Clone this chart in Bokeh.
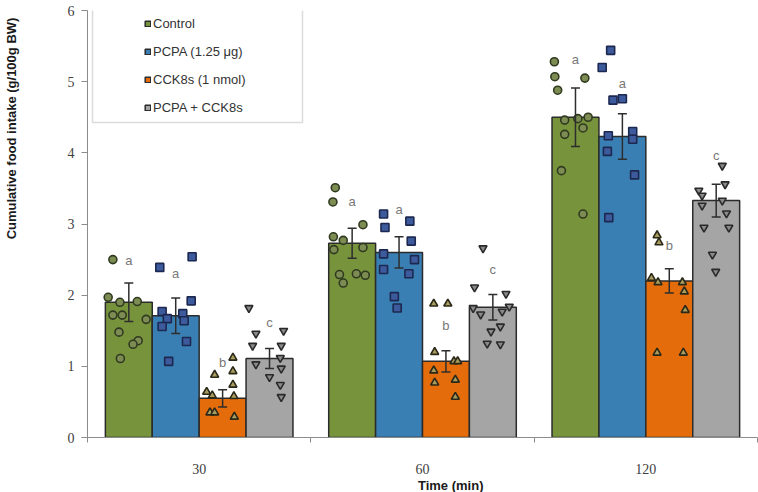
import math

from bokeh.plotting import figure
from bokeh.layouts import row, column
from bokeh.models import (ColumnDataSource, FixedTicker, Whisker, TeeHead, Legend,
                          LegendItem, BoxAnnotation, Range1d, Label)
from bokeh.core.properties import value
from bokeh.embed import file_html
from bokeh.resources import INLINE

# ---- data -------------------------------------------------------------
times = ["30", "60", "120"]
groups = ["Control", "PCPA (1.25 μg)", "CCK8s (1 nmol)", "PCPA + CCK8s"]
x_title = "Time (min)"
y_title = "Cumulative food intake (g/100g BW)"

# group means and SEM at 30, 60 and 120 min
control_mean = [1.90, 2.73, 4.50]
control_sem = [0.27, 0.21, 0.41]
pcpa_mean = [1.71, 2.60, 4.23]
pcpa_sem = [0.25, 0.22, 0.32]
cck_mean = [0.55, 1.07, 2.20]
cck_sem = [0.12, 0.15, 0.17]
combo_mean = [1.11, 1.83, 3.33]
combo_sem = [0.14, 0.18, 0.23]

# individual animals
control_30 = [2.50, 1.97, 1.90, 1.91, 1.72, 1.72, 1.66, 1.48, 1.36, 1.31, 1.11]
control_60 = [3.51, 3.31, 2.99, 2.82, 2.77, 2.64, 2.67, 2.29, 2.17, 2.30, 2.28]
control_120 = [5.28, 5.07, 5.05, 4.88, 4.46, 4.48, 4.50, 4.35, 4.26, 3.75, 3.14]
pcpa_30 = [2.54, 2.39, 1.92, 1.77, 1.74, 1.67, 1.64, 1.56, 1.35, 1.07]
pcpa_60 = [3.14, 2.95, 3.04, 2.76, 2.58, 2.50, 2.36, 2.30, 1.98, 1.82]
pcpa_120 = [5.44, 5.20, 4.74, 4.76, 4.24, 4.30, 4.19, 4.02, 3.69, 3.09]
cck_30 = [1.12, 0.88, 0.93, 0.74, 0.64, 0.59, 0.58, 0.35, 0.35, 0.29]
cck_60 = [1.88, 1.88, 1.20, 1.07, 1.07, 0.94, 0.81, 0.77, 0.57]
cck_120 = [2.84, 2.74, 2.24, 2.18, 2.18, 2.05, 1.79, 1.19, 1.19]
combo_30 = [1.82, 1.46, 1.50, 1.29, 1.29, 1.12, 1.03, 0.97, 0.85, 0.74, 0.57]
combo_60 = [2.66, 2.11, 2.02, 1.82, 1.84, 1.73, 1.77, 1.56, 1.49, 1.32, 1.31]
combo_120 = [3.82, 3.56, 3.47, 3.40, 3.33, 3.26, 3.15, 2.95, 2.95, 2.57, 2.33]

# significance letters (same grouping at every time point)
letters = ["a", "a", "b", "c"]

# ---- layout -----------------------------------------------------------
bar_offsets = [-0.315, -0.105, 0.105, 0.315]
bar_width = 0.21

# horizontal scatter of the dots, as a fraction of the bar width
control_jit = [[-0.34, -0.44, -0.19, 0.18, -0.34, -0.14, 0.37, -0.21, 0.20, 0.09, -0.18],
               [-0.36, -0.41, 0.23, -0.40, -0.19, -0.39, 0.23, -0.27, -0.19, 0.09, 0.28],
               [-0.45, -0.44, 0.20, -0.38, -0.23, 0.05, 0.27, 0.16, -0.23, -0.30, 0.16]]
pcpa_jit = [[0.35, -0.34, 0.33, -0.29, 0.15, -0.18, 0.18, -0.29, 0.23, -0.15],
            [-0.33, -0.30, 0.23, 0.26, -0.33, 0.33, -0.33, 0.21, -0.10, -0.04],
            [-0.25, -0.43, -0.20, 0.00, -0.30, 0.22, 0.22, -0.32, 0.26, -0.29]]
cck_jit = [[0.22, -0.17, 0.22, 0.22, -0.34, -0.22, 0.24, -0.27, -0.17, 0.25],
           [-0.26, 0.04, -0.24, 0.17, 0.25, -0.26, 0.20, -0.24, 0.20],
           [-0.26, -0.22, -0.38, -0.24, 0.28, 0.32, 0.34, -0.26, 0.30]]
combo_jit = [[-0.44, -0.29, 0.30, -0.36, 0.25, 0.23, -0.29, 0.25, 0.00, 0.23, 0.25],
             [-0.21, -0.39, 0.28, -0.42, 0.35, -0.26, 0.20, 0.16, -0.04, -0.12, 0.16],
             [0.13, 0.19, -0.37, -0.30, 0.13, -0.30, 0.22, -0.26, 0.27, -0.08, -0.01]]

# height of the letter above each bar
letter_y = [[2.49, 3.31, 5.31], [2.31, 3.20, 4.97], [1.05, 1.57, 2.70], [1.62, 2.36, 3.96]]

bar_colors = ["#77933c", "#3a7fb4", "#e46c0a", "#a5a5a5"]
dot_markers = ["circle", "square", "triangle", "inverted_triangle"]
dot_fill = ["#7c8c52", "#3d5a9c", "#a89c5e", "#8a8a8a"]
dot_line = ["#303a20", "#1c2850", "#2a2818", "#2a2a2a"]

means = [control_mean, pcpa_mean, cck_mean, combo_mean]
sems = [control_sem, pcpa_sem, cck_sem, combo_sem]
dots = [[control_30, control_60, control_120],
        [pcpa_30, pcpa_60, pcpa_120],
        [cck_30, cck_60, cck_120],
        [combo_30, combo_60, combo_120]]
jitters = [control_jit, pcpa_jit, cck_jit, combo_jit]

SANS = "Liberation Sans"
SERIF = "Liberation Serif"

W, H = 758, 492
TITLE_W = 22     # strip holding the vertical axis title
TITLE_H = 16     # strip holding the horizontal axis title
PLOT_W, PLOT_H = W - TITLE_W, H - TITLE_H

title_style = dict(text_font=SANS, text_font_style="bold", text_font_size="13px",
                   text_color="#1a1a1a", text_align="center", text_baseline="middle")


def blank_strip(width, height):
    f = figure(width=width, height=height, output_backend="svg", toolbar_location=None,
               x_range=Range1d(0, width), y_range=Range1d(0, height),
               min_border=0, min_border_left=0, min_border_right=0,
               min_border_top=0, min_border_bottom=0)
    f.axis.visible = False
    f.grid.visible = False
    f.outline_line_color = None
    return f


# vertical title, set toward the upper part of the axis
yt = blank_strip(TITLE_W, H)
yt.add_layout(Label(x=11, y=H - 128, text=y_title, angle=math.pi / 2, **title_style))

# horizontal title under the middle category
xt = blank_strip(PLOT_W, TITLE_H)
xt.add_layout(Label(x=421 - TITLE_W, y=7, text=x_title, **title_style))

p = figure(width=PLOT_W, height=PLOT_H, output_backend="svg", toolbar_location=None,
           x_range=Range1d(-0.5, 2.5), y_range=Range1d(0, 6),
           min_border_left=87 - TITLE_W, min_border_right=1, min_border_top=10,
           min_border_bottom=PLOT_H - 437)
p.outline_line_color = None
p.xgrid.visible = False
p.ygrid.visible = False
p.background_fill_color = "white"

bar_renderers = []
for gi in range(4):
    xs = [ti + bar_offsets[gi] for ti in range(len(times))]
    src = ColumnDataSource(dict(
        x=xs, top=means[gi],
        upper=[m + s for m, s in zip(means[gi], sems[gi])],
        lower=[m - s for m, s in zip(means[gi], sems[gi])]))
    r = p.vbar(x="x", top="top", width=bar_width, source=src,
               fill_color=bar_colors[gi], line_color="#2b2b2b", line_width=1.5)
    bar_renderers.append(r)

    w = Whisker(source=src, base="x", upper="upper", lower="lower",
                line_color="#2e2e2e", line_width=1.5, level="annotation",
                upper_head=TeeHead(size=9, line_color="#2e2e2e", line_width=1.5),
                lower_head=TeeHead(size=9, line_color="#2e2e2e", line_width=1.5))
    p.add_layout(w)

for gi in range(4):
    dx, dy = [], []
    for ti in range(len(times)):
        for v, j in zip(dots[gi][ti], jitters[gi][ti]):
            dx.append(ti + bar_offsets[gi] + j * bar_width)
            dy.append(v)
    p.scatter(dx, dy, marker=dot_markers[gi], size=8,
              fill_color=dot_fill[gi], line_color=dot_line[gi], line_width=1.6)

    lx = [ti + bar_offsets[gi] for ti in range(len(times))]
    p.text(lx, letter_y[gi], text=[letters[gi]] * len(times),
           text_font=value(SANS), text_font_size="13px", text_color="#777777",
           text_align="center", text_baseline="middle")

# axes
xa = p.xaxis[0]
xa.ticker = FixedTicker(ticks=list(range(len(times))),
                        minor_ticks=[i - 0.5 for i in range(len(times) + 1)])
xa.major_label_overrides = {i: t for i, t in enumerate(times)}
xa.major_tick_out = 0
xa.major_tick_in = 0
xa.minor_tick_out = 5
xa.minor_tick_in = 0
xa.major_label_standoff = 21

ya = p.yaxis[0]
ya.ticker = FixedTicker(ticks=[0, 1, 2, 3, 4, 5, 6])
ya.major_tick_out = 6
ya.major_tick_in = 0
ya.minor_tick_out = 0
ya.minor_tick_in = 0
ya.major_label_standoff = 7

for ax in (xa, ya):
    ax.axis_line_color = "#8c8c8c"
    ax.major_tick_line_color = "#8c8c8c"
    ax.minor_tick_line_color = "#8c8c8c"
    ax.major_label_text_font = SERIF
    ax.major_label_text_font_size = "14px"
    ax.major_label_text_color = "#404040"

# legend frame and entries
p.add_layout(BoxAnnotation(left=92 - TITLE_W, right=302 - TITLE_W, top=7, bottom=122,
                           left_units="canvas", right_units="canvas",
                           top_units="canvas", bottom_units="canvas",
                           fill_color="white", fill_alpha=1.0,
                           line_color="#8c8c8c", line_width=1.5, level="overlay"))
legend = Legend(items=[LegendItem(label=g, renderers=[r])
                       for g, r in zip(groups, bar_renderers)],
                location=(57, 322), padding=0, margin=0, spacing=12,
                glyph_width=7, glyph_height=7, label_height=16, label_standoff=2,
                label_text_font=SANS, label_text_font_size="13px",
                label_text_color="#333333", border_line_alpha=0,
                background_fill_alpha=0)
p.add_layout(legend)

layout = row(yt, column(p, xt, spacing=0), spacing=0)
open("out.html", "w").write(file_html(layout, INLINE))
